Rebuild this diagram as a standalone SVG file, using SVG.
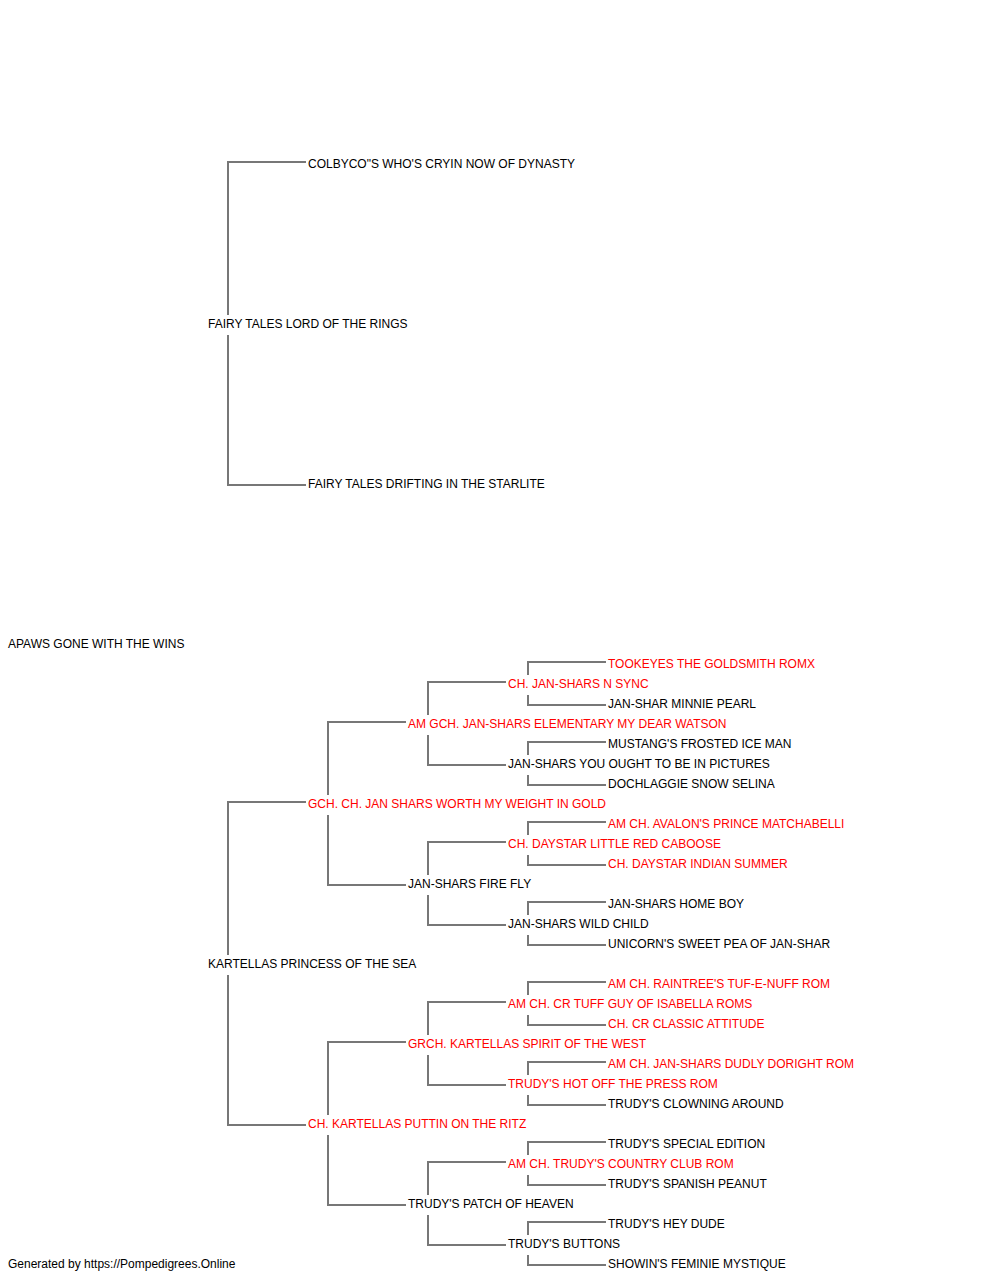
<svg xmlns="http://www.w3.org/2000/svg" width="1000" height="1280" viewBox="0 0 1000 1280">
<style>
text{font-family:"Liberation Sans",Arial,sans-serif;font-size:12px;fill:#000}
.r{fill:#ff0000}
.c path{fill:none;stroke:#777;stroke-width:2}
</style>
<rect width="1000" height="1280" fill="#fff"/>
<g class="c" id="connectors">
<path d="M306 162H228V315M228 335V485H306"/>
<path d="M306 802H228V955M228 975V1125H306"/>
<path d="M406 722H328V795M328 815V885H406"/>
<path d="M406 1042H328V1115M328 1135V1205H406"/>
<path d="M506 682H428V715M428 735V765H506"/>
<path d="M506 842H428V875M428 895V925H506"/>
<path d="M506 1002H428V1035M428 1055V1085H506"/>
<path d="M506 1162H428V1195M428 1215V1245H506"/>
<path d="M606 662H528V675M528 695V705H606"/>
<path d="M606 742H528V755M528 775V785H606"/>
<path d="M606 822H528V835M528 855V865H606"/>
<path d="M606 902H528V915M528 935V945H606"/>
<path d="M606 982H528V995M528 1015V1025H606"/>
<path d="M606 1062H528V1075M528 1095V1105H606"/>
<path d="M606 1142H528V1155M528 1175V1185H606"/>
<path d="M606 1222H528V1235M528 1255V1265H606"/>
</g>
<g id="n0"><text x="8" y="648">APAWS GONE WITH THE WINS</text></g>
<g id="n1"><text x="208" y="328">FAIRY TALES LORD OF THE RINGS</text></g>
<g id="n2"><text x="208" y="968">KARTELLAS PRINCESS OF THE SEA</text></g>
<g id="n3"><text x="308" y="168">COLBYCO"S WHO'S CRYIN NOW OF DYNASTY</text></g>
<g id="n4"><text x="308" y="488">FAIRY TALES DRIFTING IN THE STARLITE</text></g>
<g id="n5"><text class="r" x="308" y="808">GCH. CH. JAN SHARS WORTH MY WEIGHT IN GOLD</text></g>
<g id="n6"><text class="r" x="308" y="1128">CH. KARTELLAS PUTTIN ON THE RITZ</text></g>
<g id="n7"><text class="r" x="408" y="728">AM GCH. JAN-SHARS ELEMENTARY MY DEAR WATSON</text></g>
<g id="n8"><text x="408" y="888">JAN-SHARS FIRE FLY</text></g>
<g id="n9"><text class="r" x="408" y="1048">GRCH. KARTELLAS SPIRIT OF THE WEST</text></g>
<g id="n10"><text x="408" y="1208">TRUDY'S PATCH OF HEAVEN</text></g>
<g id="n11"><text class="r" x="508" y="688">CH. JAN-SHARS N SYNC</text></g>
<g id="n12"><text x="508" y="768">JAN-SHARS YOU OUGHT TO BE IN PICTURES</text></g>
<g id="n13"><text class="r" x="508" y="848">CH. DAYSTAR LITTLE RED CABOOSE</text></g>
<g id="n14"><text x="508" y="928">JAN-SHARS WILD CHILD</text></g>
<g id="n15"><text class="r" x="508" y="1008">AM CH. CR TUFF GUY OF ISABELLA ROMS</text></g>
<g id="n16"><text class="r" x="508" y="1088">TRUDY'S HOT OFF THE PRESS ROM</text></g>
<g id="n17"><text class="r" x="508" y="1168">AM CH. TRUDY'S COUNTRY CLUB ROM</text></g>
<g id="n18"><text x="508" y="1248">TRUDY'S BUTTONS</text></g>
<g id="n19"><text class="r" x="608" y="668">TOOKEYES THE GOLDSMITH ROMX</text></g>
<g id="n20"><text x="608" y="708">JAN-SHAR MINNIE PEARL</text></g>
<g id="n21"><text x="608" y="748">MUSTANG'S FROSTED ICE MAN</text></g>
<g id="n22"><text x="608" y="788">DOCHLAGGIE SNOW SELINA</text></g>
<g id="n23"><text class="r" x="608" y="828">AM CH. AVALON'S PRINCE MATCHABELLI</text></g>
<g id="n24"><text class="r" x="608" y="868">CH. DAYSTAR INDIAN SUMMER</text></g>
<g id="n25"><text x="608" y="908">JAN-SHARS HOME BOY</text></g>
<g id="n26"><text x="608" y="948">UNICORN'S SWEET PEA OF JAN-SHAR</text></g>
<g id="n27"><text class="r" x="608" y="988">AM CH. RAINTREE'S TUF-E-NUFF ROM</text></g>
<g id="n28"><text class="r" x="608" y="1028">CH. CR CLASSIC ATTITUDE</text></g>
<g id="n29"><text class="r" x="608" y="1068">AM CH. JAN-SHARS DUDLY DORIGHT ROM</text></g>
<g id="n30"><text x="608" y="1108">TRUDY'S CLOWNING AROUND</text></g>
<g id="n31"><text x="608" y="1148">TRUDY'S SPECIAL EDITION</text></g>
<g id="n32"><text x="608" y="1188">TRUDY'S SPANISH PEANUT</text></g>
<g id="n33"><text x="608" y="1228">TRUDY'S HEY DUDE</text></g>
<g id="n34"><text x="608" y="1268">SHOWIN'S FEMINIE MYSTIQUE</text></g>
<g id="footer"><text x="8" y="1268">Generated by https://Pompedigrees.Online</text></g>
</svg>
